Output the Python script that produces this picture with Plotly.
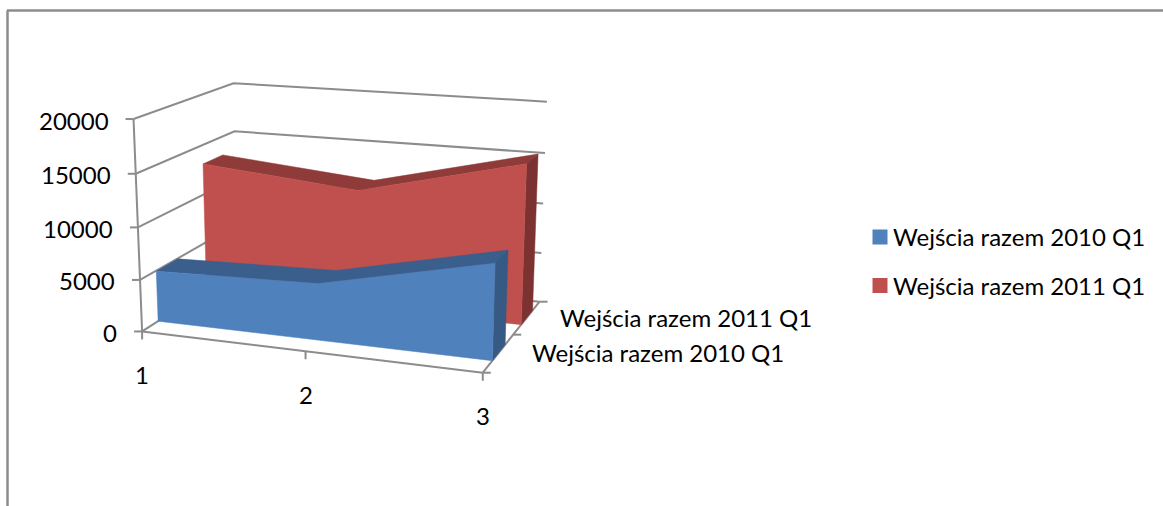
import numpy as np
import plotly.graph_objects as go

# ---- data ----
categories = ["1", "2", "3"]
series_names = ["Wejścia razem 2010 Q1", "Wejścia razem 2011 Q1"]
values_2010 = [4950, 5400, 8900]
values_2011 = [13100, 11700, 15500]
value_ticks = [0, 5000, 10000, 15000, 20000]
value_max = 20000

# ---- colours / style ----
BLUE = dict(front="#4F81BD", top="#3B5F8C", side="#375A84")
RED = dict(front="#C0504D", top="#8E3B39", side="#7C3230")
GRID = "#8C8C8C"
FONT = "Lato"
FS = 24

# ---- 3D -> page projection, fitted from the picture's box corners ----
anchors = [
    ((0, 0, 0), (142, 331)), ((1, 0, 0), (483, 373)), ((0, 1, 0), (238, 271)),
    ((1, 1, 0), (539.5, 301)), ((0, 0, 1), (134, 119)), ((0, 1, 1), (233, 83)),
    ((1, 1, 1), (547, 102)), ((.5, 0, 0), (305, 351.5)),
]
A = []
for (u, w, h), (px, py) in anchors:
    A.append([u, w, h, 1, 0, 0, 0, 0, -px*u, -px*w, -px*h, -px])
    A.append([0, 0, 0, 0, u, w, h, 1, -py*u, -py*w, -py*h, -py])
M = np.linalg.svd(np.array(A, float))[2][-1].reshape(3, 4)


def P(u, w, h):
    x, y, s = M @ np.array([u, w, h, 1.0])
    return float(x / s), float(y / s)


def poly(points):
    xs, ys = zip(*points)
    return list(xs), list(ys)


fig = go.Figure()


def face(points, color):
    xs, ys = poly(points + points[:1])
    fig.add_trace(go.Scatter(x=xs, y=ys, mode="lines", fill="toself", fillcolor=color,
                             line=dict(color=color, width=0.5), hoverinfo="skip", showlegend=False))


def line(points, width=2):
    xs, ys = poly(points)
    fig.add_trace(go.Scatter(x=xs, y=ys, mode="lines", line=dict(color=GRID, width=width),
                             hoverinfo="skip", showlegend=False))


us = [i / (len(categories) - 1) for i in range(len(categories))]

# walls
for v in value_ticks:
    h = v / value_max
    line([P(0, 0, h), P(0, 1, h), P(1, 1, h)])
    line([P(0, 0, h), (P(0, 0, h)[0] - 8, P(0, 0, h)[1])])
line([P(0, 0, 0), P(0, 0, 1)])
line([P(0, 0, 0), P(1, 0, 0)])
line([P(1, 0, 0), P(1, 1, 0)])


def area(vals, w0, w1, c):
    hs = [v / value_max for v in vals]
    top_f = [P(u, w0, h) for u, h in zip(us, hs)]
    top_b = [P(u, w1, h) for u, h in zip(us, hs)]
    face(top_f + top_b[::-1], c["top"])
    face([P(1, w0, 0), P(1, w1, 0), top_b[-1], top_f[-1]], c["side"])
    face([P(0, w0, 0)] + top_f + [P(1, w0, 0)], c["front"])


area(values_2011, 0.645, 0.86, RED)
area(values_2010, 0.15, 0.36, BLUE)

# floor ticks
for u in us:
    x, y = P(u, 0, 0)
    line([(x, y), (x, y + 8)])
for w in [0, .5, 1]:
    x, y = P(1, w, 0)
    line([(x, y), (x + 8, y)])

# legend swatches
for name, c, yy in zip(series_names, [BLUE, RED], [237, 285.5]):
    fig.add_trace(go.Scatter(x=[880], y=[yy], mode="markers", name=name,
                             marker=dict(symbol="square", size=15, color=c["front"]),
                             hoverinfo="name", showlegend=False))

ann = []


def text(s, x, y, anchor="center"):
    ann.append(dict(x=x, y=y, text=s, showarrow=False, xanchor=anchor, yanchor="middle",
                    xref="x", yref="y", font=dict(family=FONT, size=FS, color="#000000")))


for v in value_ticks:
    x, y = P(0, 0, v / value_max)
    text(str(v), x - 23, y + 1, "right")
for cat, u in zip(categories, us):
    x, y = P(u, 0, 0)
    text(cat, x, y + 43)
for name, w in zip(series_names, [.25, .75]):
    x, y = P(1, w, 0)
    text(name, x + 31, y, "left")
for name, yy in zip(series_names, [236, 285]):
    text(name, 891, yy, "left")

W, H = 1163, 506
frame = dict(color=GRID, width=2.5)
fig.update_layout(
    width=W, height=H, margin=dict(l=0, r=0, t=0, b=0), showlegend=False,
    paper_bgcolor="white", plot_bgcolor="white", annotations=ann,
    xaxis=dict(range=[0, W], visible=False, fixedrange=True),
    yaxis=dict(range=[H, 0], visible=False, fixedrange=True),
    shapes=[
        dict(type="line", xref="x", yref="y", x0=7.5, y0=506, x1=7.5, y1=10.5, line=frame),
        dict(type="line", xref="x", yref="y", x0=7, y0=10.5, x1=1163, y1=10.5, line=frame),
    ],
)
fig.write_html("out.html", config=dict(displayModeBar=False),
               post_script="document.body.style.margin='0';document.body.style.overflow='hidden';")
